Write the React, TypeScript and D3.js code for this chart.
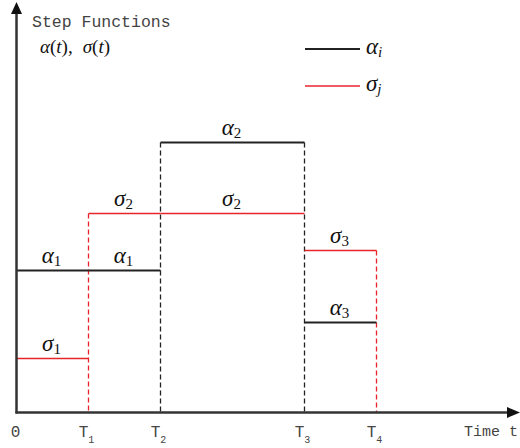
import React from "react";
import * as d3 from "d3";

// Breakpoints on the time axis (0, T1..T4)
const times = [0, 1, 2, 4, 5];
const timeLabels = ["0", "T1", "T2", "T3", "T4"];

// Step levels on each interval [times[i], times[i+1]]
const alphaIndex = [1, 1, 2, 3];
const alphaLevel = [1.42, 1.42, 2.7, 0.9];
const sigmaIndex = [1, 2, 2, 3];
const sigmaLevel = [0.54, 1.99, 1.99, 1.62];

const W = 520;
const H = 448;

const x = d3.scaleLinear().domain([0, 7]).range([16.5, 520.5]);
const y = d3.scaleLinear().domain([0, 4]).range([412.5, 12.5]);

const BLACK = "#222";
const RED = "#e8242b";
const AXIS = "#333";
const TEXT = "#444";
const MATH = "'Liberation Serif', 'DejaVu Serif', serif";
const MONO = "'Liberation Mono', 'DejaVu Sans Mono', monospace";

type Seg = { x0: number; x1: number; v: number; idx: number };

function segments(levels: number[], idx: number[]): Seg[] {
  return levels.map((v, i) => ({ x0: times[i], x1: times[i + 1], v, idx: idx[i] }));
}

function MathLabel({
  cx,
  by,
  sym,
  sub,
  subItalic = false,
  anchor = "middle",
}: {
  cx: number;
  by: number;
  sym: string;
  sub: string;
  subItalic?: boolean;
  anchor?: "middle" | "start";
}) {
  return (
    <text x={cx} y={by} textAnchor={anchor} fontFamily={MATH} fill="#111">
      <tspan fontStyle="italic" fontSize={23}>
        {sym}
      </tspan>
      <tspan fontSize={15} dy={3} fontStyle={subItalic ? "italic" : "normal"}>
        {sub}
      </tspan>
    </text>
  );
}

export default function App() {
  const alphaSegs = segments(alphaLevel, alphaIndex);
  const sigmaSegs = segments(sigmaLevel, sigmaIndex);

  // Dashed drops at each breakpoint: whichever function jumps there, tallest one shown
  const drops: { t: number; top: number; color: string }[] = [];
  for (let i = 1; i < times.length; i++) {
    const cands: { top: number; color: string }[] = [];
    const aPrev = alphaLevel[i - 1];
    const aNext = i < alphaLevel.length ? alphaLevel[i] : 0;
    if (aPrev !== aNext) cands.push({ top: Math.max(aPrev, aNext), color: BLACK });
    const sPrev = sigmaLevel[i - 1];
    const sNext = i < sigmaLevel.length ? sigmaLevel[i] : 0;
    if (sPrev !== sNext) cands.push({ top: Math.max(sPrev, sNext), color: RED });
    if (cands.length) {
      cands.sort((a, b) => b.top - a.top);
      drops.push({ t: times[i], ...cands[0] });
    }
  }

  const x0 = x(0);
  const y0 = y(0);

  return (
    <svg
      width={W}
      height={H}
      viewBox={`0 0 ${W} ${H}`}
      style={{ position: "absolute", left: 0, top: 0, background: "#fff" }}
    >
      <rect width={W} height={H} fill="#fff" />

      {/* dashed drops */}
      {drops.map((d, i) => (
        <line
          key={`d${i}`}
          x1={x(d.t)}
          x2={x(d.t)}
          y1={y(d.top)}
          y2={y0}
          stroke={d.color}
          strokeWidth={1.3}
          strokeDasharray="5,3"
        />
      ))}

      {/* sigma steps */}
      {sigmaSegs.map((s, i) => (
        <line key={`s${i}`} x1={x(s.x0)} x2={x(s.x1)} y1={y(s.v)} y2={y(s.v)} stroke={RED} strokeWidth={1.5} />
      ))}
      {/* alpha steps */}
      {alphaSegs.map((s, i) => (
        <line key={`a${i}`} x1={x(s.x0)} x2={x(s.x1)} y1={y(s.v)} y2={y(s.v)} stroke={BLACK} strokeWidth={2} />
      ))}

      {/* step labels */}
      {sigmaSegs.map((s, i) => (
        <MathLabel key={`sl${i}`} cx={(x(s.x0) + x(s.x1)) / 2 - 1} by={y(s.v) - 8} sym="σ" sub={String(s.idx)} />
      ))}
      {alphaSegs.map((s, i) => (
        <MathLabel key={`al${i}`} cx={(x(s.x0) + x(s.x1)) / 2 - 1} by={y(s.v) - 8} sym="α" sub={String(s.idx)} />
      ))}

      {/* axes */}
      <line x1={x0} x2={x0} y1={y0 + 1} y2={12} stroke={AXIS} strokeWidth={2.5} />
      <path d={`M${x0},2 L${x0 - 5.5},14 L${x0 + 5.5},14 Z`} fill="#111" />
      <line x1={x0 - 1} x2={509} y1={y0} y2={y0} stroke={AXIS} strokeWidth={2.5} />
      <path d={`M520,${y0} L507,${y0 - 5.5} L507,${y0 + 5.5} Z`} fill="#111" />

      {/* time tick labels */}
      {times.map((t, i) => {
        const lab = timeLabels[i];
        if (lab.length === 1) {
          return (
            <text key={`t${i}`} x={x(t) - 1} y={437} textAnchor="middle" fontFamily={MONO} fontSize={16} fill={TEXT}>
              {lab}
            </text>
          );
        }
        return (
          <text key={`t${i}`} x={x(t) - 2} y={437} textAnchor="middle" fontFamily={MONO} fontSize={16} fill={TEXT}>
            {lab[0]}
            <tspan fontSize={10} dy={6}>
              {lab.slice(1)}
            </tspan>
          </text>
        );
      })}
      <text x={518} y={436} textAnchor="end" fontFamily={MONO} fontSize={15} fill={TEXT}>
        Time t
      </text>

      {/* y-axis title */}
      <text x={32} y={27} fontFamily={MONO} fontSize={16.5} fill={TEXT}>
        Step Functions
      </text>
      <text x={40} y={53} fontFamily={MATH} fontSize={19} fill="#111">
        <tspan fontStyle="italic">α</tspan>(<tspan fontStyle="italic">t</tspan>),
        <tspan fontStyle="italic" dx={10}>
          σ
        </tspan>
        (<tspan fontStyle="italic">t</tspan>)
      </text>

      {/* legend */}
      <line x1={305} x2={360} y1={49} y2={49} stroke={BLACK} strokeWidth={2} />
      <MathLabel cx={366} by={54} sym="α" sub="i" subItalic anchor="start" />
      <line x1={305} x2={360} y1={86} y2={86} stroke={RED} strokeWidth={1.5} />
      <MathLabel cx={366} by={91} sym="σ" sub="j" subItalic anchor="start" />
    </svg>
  );
}
